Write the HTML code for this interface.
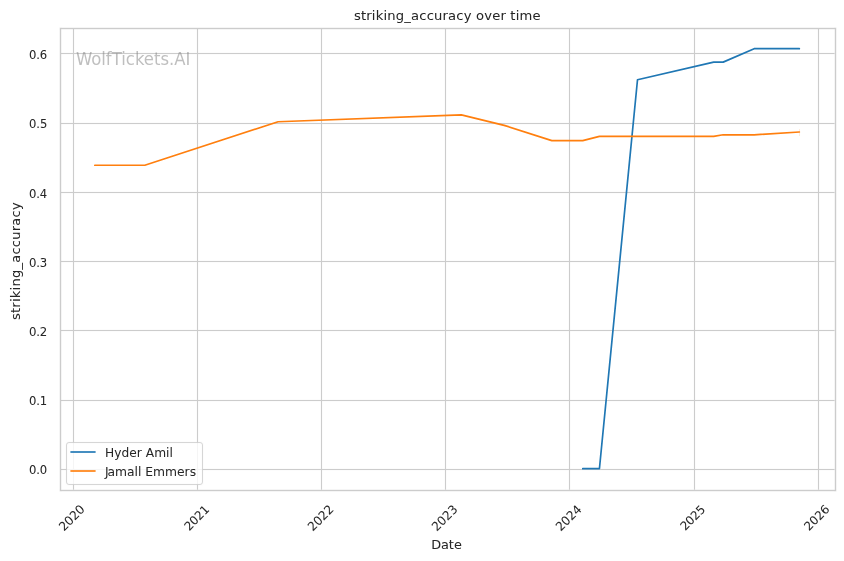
<!DOCTYPE html>
<html lang="en">
<head>
<meta charset="utf-8">
<title>striking_accuracy over time</title>
<style>
html,body{margin:0;padding:0;background:#ffffff;}
body{width:844px;height:561px;overflow:hidden;}
svg{display:block;}
svg text{font-family:"DejaVu Sans","Liberation Sans",sans-serif;white-space:pre;}
</style>
</head>
<body>
<svg width="844" height="561" viewBox="0 0 844 561" font-family="'DejaVu Sans', 'Liberation Sans', sans-serif">
 <defs><clipPath id="ax"><rect x="59.583" y="27.716" width="775" height="462"/></clipPath></defs>
 <rect x="0" y="0" width="844" height="561" fill="#ffffff"/>
 <g clip-path="url(#ax)" fill="none" stroke="#cccccc">
  <g stroke-width="3" stroke-opacity="0.055">
   <line x1="73.5" y1="490.5" x2="73.5" y2="28.5"/>
   <line x1="197.5" y1="490.5" x2="197.5" y2="28.5"/>
   <line x1="321.5" y1="490.5" x2="321.5" y2="28.5"/>
   <line x1="445.5" y1="490.5" x2="445.5" y2="28.5"/>
   <line x1="569.5" y1="490.5" x2="569.5" y2="28.5"/>
   <line x1="694.5" y1="490.5" x2="694.5" y2="28.5"/>
   <line x1="818.5" y1="490.5" x2="818.5" y2="28.5"/>
   <line x1="60.5" y1="469.5" x2="835.5" y2="469.5"/>
   <line x1="60.5" y1="400.5" x2="835.5" y2="400.5"/>
   <line x1="60.5" y1="330.5" x2="835.5" y2="330.5"/>
   <line x1="60.5" y1="261.5" x2="835.5" y2="261.5"/>
   <line x1="60.5" y1="192.5" x2="835.5" y2="192.5"/>
   <line x1="60.5" y1="123.5" x2="835.5" y2="123.5"/>
   <line x1="60.5" y1="53.5" x2="835.5" y2="53.5"/>
  </g>
  <g stroke-width="1">
   <line x1="73.5" y1="490.5" x2="73.5" y2="28.5"/>
   <line x1="197.5" y1="490.5" x2="197.5" y2="28.5"/>
   <line x1="321.5" y1="490.5" x2="321.5" y2="28.5"/>
   <line x1="445.5" y1="490.5" x2="445.5" y2="28.5"/>
   <line x1="569.5" y1="490.5" x2="569.5" y2="28.5"/>
   <line x1="694.5" y1="490.5" x2="694.5" y2="28.5"/>
   <line x1="818.5" y1="490.5" x2="818.5" y2="28.5"/>
   <line x1="60.5" y1="469.5" x2="835.5" y2="469.5"/>
   <line x1="60.5" y1="400.5" x2="835.5" y2="400.5"/>
   <line x1="60.5" y1="330.5" x2="835.5" y2="330.5"/>
   <line x1="60.5" y1="261.5" x2="835.5" y2="261.5"/>
   <line x1="60.5" y1="192.5" x2="835.5" y2="192.5"/>
   <line x1="60.5" y1="123.5" x2="835.5" y2="123.5"/>
   <line x1="60.5" y1="53.5" x2="835.5" y2="53.5"/>
  </g>
 </g>
 <g>
  <text font-size="12.322" fill="#262626" letter-spacing="-0.2" transform="translate(63.926 531.805) rotate(-45)">2020</text>
  <text font-size="11.822" fill="#262626" letter-spacing="-0.1" stroke="#262626" stroke-width="0.057" transform="translate(189.127 531.305) rotate(-45)">2021</text>
  <text font-size="12.222" fill="#262626" letter-spacing="-0.1" stroke="#262626" stroke-width="0.017" transform="translate(312.739 531.805) rotate(-45)">2022</text>
  <text font-size="12.172" fill="#262626" letter-spacing="-0.1" stroke="#262626" stroke-width="0.013" transform="translate(436.725 531.805) rotate(-45)">2023</text>
  <text font-size="12.222" fill="#262626" letter-spacing="-0.15" stroke="#262626" stroke-width="0.023" transform="translate(560.712 531.805) rotate(-45)">2024</text>
  <text font-size="11.822" fill="#262626" letter-spacing="-0.2" stroke="#262626" stroke-width="0.056" transform="translate(685.164 531.055) rotate(-45)">2025</text>
  <text font-size="11.822" fill="#262626" stroke="#262626" stroke-width="0.053" transform="translate(809.025 531.305) rotate(-45)">2026</text>
  <text font-size="13.133" fill="#262626" text-anchor="middle" letter-spacing="-0.025" stroke="#262626" stroke-width="0.046" transform="translate(446.458 548.789) scale(0.98 0.95)">Date</text>
  <text font-size="11.622" fill="#262626" text-anchor="end" letter-spacing="-0.1" stroke="#262626" stroke-width="0.064" x="47.056" y="474.359">0.0</text>
  <text font-size="11.622" fill="#262626" text-anchor="end" letter-spacing="-0.1" stroke="#262626" stroke-width="0.05" x="47.056" y="405.149">0.1</text>
  <text font-size="12.022" fill="#262626" text-anchor="end" letter-spacing="-0.125" stroke="#262626" stroke-width="0.053" transform="translate(47.181 335.939) scale(0.976 0.975)">0.2</text>
  <text font-size="11.572" fill="#262626" text-anchor="end" letter-spacing="-0.1" stroke="#262626" stroke-width="0.052" transform="translate(47.181 266.73) scale(1.01 1.01)">0.3</text>
  <text font-size="11.622" fill="#262626" text-anchor="end" letter-spacing="-0.1" stroke="#262626" stroke-width="0.062" transform="translate(47.056 197.52) scale(1 0.99)">0.4</text>
  <text font-size="11.672" fill="#262626" text-anchor="end" letter-spacing="-0.1" stroke="#262626" stroke-width="0.062" transform="translate(47.181 128.31) scale(0.99 1)">0.5</text>
  <text font-size="11.622" fill="#262626" text-anchor="end" letter-spacing="-0.1" stroke="#262626" stroke-width="0.053" x="47.056" y="59.1">0.6</text>
  <text font-size="13.133" fill="#262626" text-anchor="middle" letter-spacing="0.2625" stroke="#262626" stroke-width="0.055" transform="translate(19.919 261.091) rotate(-90) scale(0.99 0.99)">striking_accuracy</text>
 </g>
 <g clip-path="url(#ax)" fill="none" stroke-width="1.7" stroke-linecap="round" stroke-linejoin="round">
  <polyline stroke="#1f77b4" points="582.756,468.716 599.417,468.716 637.501,79.756 713.668,62.108 723.189,62.108 754.132,48.716 799.356,48.716"/>
  <polyline stroke="#ff7f0e" points="94.811,165.23 144.795,165.23 278.088,121.767 461.365,114.846 504.209,125.365 551.813,140.661 582.756,140.661 599.417,136.37 713.668,136.37 723.189,134.778 754.132,134.778 799.356,132.01"/>
 </g>
 <line x1="799.5" y1="129" x2="799.5" y2="136" stroke="#ff7f0e" stroke-opacity="0.15" stroke-width="1"/>
 <g fill="none" stroke="#cccccc">
  <g stroke-width="3" stroke-opacity="0.194">
   <line x1="60.5" y1="27.805" x2="60.5" y2="491.195"/>
   <line x1="835.5" y1="27.805" x2="835.5" y2="491.195"/>
   <line x1="59.806" y1="490.5" x2="836.194" y2="490.5"/>
   <line x1="59.806" y1="28.5" x2="836.194" y2="28.5"/>
  </g>
  <g stroke-width="1">
   <line x1="60.5" y1="28" x2="60.5" y2="491"/>
   <line x1="835.5" y1="28" x2="835.5" y2="491"/>
   <line x1="60" y1="490.5" x2="836" y2="490.5"/>
   <line x1="60" y1="28.5" x2="836" y2="28.5"/>
  </g>
 </g>
 <g>
  <text font-size="18" fill="#808080" fill-opacity="0.5" transform="translate(75.875 64.5) scale(0.9167 0.99)">WolfTickets.AI</text>
  <text font-size="13.133" fill="#262626" text-anchor="middle" letter-spacing="0.175" stroke="#262626" stroke-width="0.034" x="447.333" y="20.382">striking_accuracy over time</text>
 </g>
 <g>
  <rect x="66.5" y="442.5" width="136" height="42" rx="2.445" ry="2.445" fill="#ffffff" fill-opacity="0.8" stroke="#cccccc" stroke-opacity="0.044" stroke-width="3"/>
  <rect x="66.5" y="442.5" width="136" height="42" rx="2.445" ry="2.445" fill="none" stroke="#cccccc" stroke-opacity="0.8" stroke-width="1"/>
  <line x1="71" y1="452" x2="95" y2="452" stroke="#1f77b4" stroke-width="2" stroke-opacity="0.833"/>
  <line x1="70" y1="452" x2="71" y2="452" stroke="#1f77b4" stroke-width="2" stroke-opacity="0.5"/>
  <line x1="95" y1="452" x2="96" y2="452" stroke="#1f77b4" stroke-width="2" stroke-opacity="0.5"/>
  <line x1="71" y1="471" x2="95" y2="471" stroke="#ff7f0e" stroke-width="2" stroke-opacity="0.833"/>
  <line x1="70" y1="471" x2="71" y2="471" stroke="#ff7f0e" stroke-width="2" stroke-opacity="0.5"/>
  <line x1="95" y1="471" x2="96" y2="471" stroke="#ff7f0e" stroke-width="2" stroke-opacity="0.5"/>
  <text font-size="12.222" fill="#262626" letter-spacing="0.025" stroke="#262626" stroke-width="0.014" x="105.056" y="456.734">Hyder Amil</text>
  <text font-size="12.322" fill="#262626" stroke="#262626" stroke-width="0.011" dx="1.25 -1.25" transform="translate(103.806 476.174) scale(1 0.995)">Jamall Emmers</text>
 </g>
</svg>
</body>
</html>
